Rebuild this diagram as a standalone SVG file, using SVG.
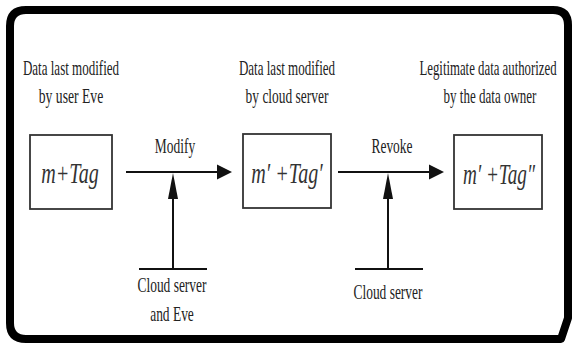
<svg xmlns="http://www.w3.org/2000/svg" width="572" height="343" viewBox="0 0 572 343">
<style>
.t{font-family:"Liberation Serif","Times New Roman",serif;font-size:21px;fill:#222;text-anchor:middle}
.m{font-family:"Liberation Serif","Times New Roman",serif;font-size:30px;font-style:italic;fill:#333;text-anchor:middle}
.box{fill:#fff;stroke:#333;stroke-width:1.8}
.ln{stroke:#111;stroke-width:2;fill:none}
.hd{fill:#111}
</style>
<rect width="572" height="343" fill="#fff"/>
<path d="M 10,26 Q 10,10 26,10 L 553,10 Q 568,10 568,25 L 568,318 L 561,339 L 26,339 Q 10,339 10,323 Z" fill="none" stroke="#000" stroke-width="8" stroke-linejoin="round"/>
<g id="node-eve">
<text class="t" transform="translate(71,75) scale(0.62,1)">Data last modified</text>
<text class="t" transform="translate(71,103) scale(0.65,1)">by user Eve</text>
<rect class="box" x="30" y="135" width="82" height="74"/>
<text class="m" transform="translate(70,183) scale(0.67,1)">m+Tag</text>
</g>
<g id="node-cloud">
<text class="t" transform="translate(287,75) scale(0.62,1)">Data last modified</text>
<text class="t" transform="translate(287,103) scale(0.64,1)">by cloud server</text>
<rect class="box" x="243" y="134" width="88" height="74"/>
<text class="m" transform="translate(287,183) scale(0.67,1)">m′ +Tag′</text>
</g>
<g id="node-owner">
<text class="t" transform="translate(488,75) scale(0.61,1)">Legitimate data authorized</text>
<text class="t" transform="translate(490,103) scale(0.62,1)">by the data owner</text>
<rect class="box" x="454" y="135" width="88" height="74"/>
<text class="m" transform="translate(499,184) scale(0.64,1)">m′ +Tag″</text>
</g>
<g id="node-actor1">
<line class="ln" x1="139" y1="269" x2="207" y2="269"/>
<text class="t" transform="translate(172,292) scale(0.64,1)">Cloud server</text>
<text class="t" transform="translate(172,321) scale(0.64,1)">and Eve</text>
</g>
<g id="node-actor2">
<line class="ln" x1="355" y1="269" x2="423" y2="269"/>
<text class="t" transform="translate(388,299) scale(0.64,1)">Cloud server</text>
</g>
<g id="connectors">
<line class="ln" x1="126" y1="172" x2="218" y2="172"/>
<polygon class="hd" points="217,164.5 232,172 217,179.5"/>
<text class="t" transform="translate(175,153) scale(0.64,1)">Modify</text>
<line class="ln" x1="173" y1="269" x2="173" y2="198"/>
<polygon class="hd" points="168,199 173,173 178,199"/>
<line class="ln" x1="338" y1="172" x2="430" y2="172"/>
<polygon class="hd" points="429,164.5 444,172 429,179.5"/>
<text class="t" transform="translate(392,153) scale(0.64,1)">Revoke</text>
<line class="ln" x1="388" y1="269" x2="388" y2="198"/>
<polygon class="hd" points="383,199 388,173 393,199"/>
</g>
</svg>
